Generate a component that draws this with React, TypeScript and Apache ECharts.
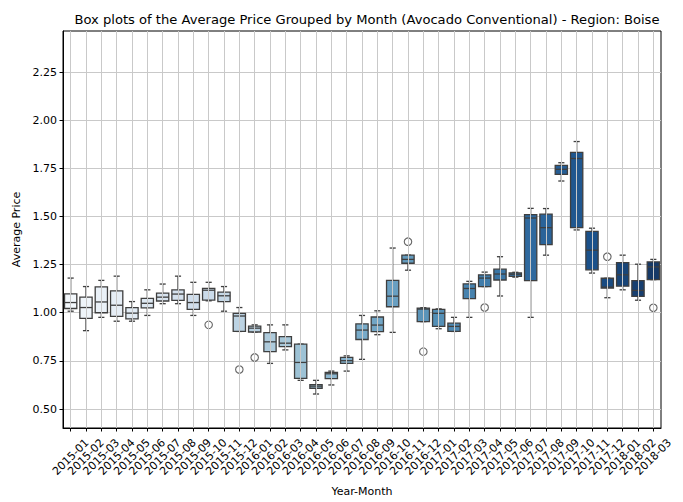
import React, { useEffect, useRef } from 'react';
import * as echarts from 'echarts';

const months = [
  '2015-01', '2015-02', '2015-03', '2015-04', '2015-05', '2015-06', '2015-07', '2015-08', '2015-09', '2015-10',
  '2015-11', '2015-12', '2016-01', '2016-02', '2016-03', '2016-04', '2016-05', '2016-06', '2016-07', '2016-08',
  '2016-09', '2016-10', '2016-11', '2016-12', '2017-01', '2017-02', '2017-03', '2017-04', '2017-05', '2017-06',
  '2017-07', '2017-08', '2017-09', '2017-10', '2017-11', '2017-12', '2018-01', '2018-02', '2018-03',
];

const lowWhisker = [
  1.008, 0.907, 0.976, 0.956, 0.956, 0.986, 1.047, 1.047, 0.986, 1.062,
  1.008, 0.903, 0.900, 0.737, 0.807, 0.649, 0.578, 0.625, 0.697, 0.758,
  0.886, 0.898, 1.221, 0.954, 0.917, 0.903, 0.976, 1.136, 1.087, 1.185,
  0.976, 1.299, 1.684, 1.430, 1.206, 1.078, 1.119, 1.065, 1.172,
];
const q1 = [
  1.022, 0.971, 1.000, 0.981, 0.968, 1.025, 1.061, 1.064, 1.017, 1.066,
  1.058, 0.903, 0.900, 0.798, 0.824, 0.659, 0.608, 0.658, 0.737, 0.861,
  0.902, 1.031, 1.257, 0.954, 0.929, 0.903, 1.073, 1.136, 1.170, 1.189,
  1.167, 1.354, 1.718, 1.442, 1.223, 1.128, 1.138, 1.085, 1.172,
];
const median = [
  1.053, 1.027, 1.056, 1.039, 0.998, 1.049, 1.081, 1.097, 1.053, 1.117,
  1.088, 0.983, 0.920, 0.849, 0.842, 0.742, 0.619, 0.683, 0.751, 0.910,
  0.936, 1.086, 1.277, 1.019, 0.997, 0.929, 1.126, 1.180, 1.201, 1.200,
  1.492, 1.442, 1.745, 1.801, 1.325, 1.133, 1.197, 1.116, 1.238,
];
const q3 = [
  1.098, 1.081, 1.134, 1.114, 1.027, 1.075, 1.102, 1.119, 1.095, 1.127,
  1.107, 0.997, 0.931, 0.897, 0.876, 0.837, 0.627, 0.690, 0.768, 0.942,
  0.978, 1.168, 1.299, 1.024, 1.017, 0.946, 1.150, 1.197, 1.226, 1.207,
  1.510, 1.512, 1.765, 1.833, 1.422, 1.179, 1.260, 1.167, 1.264,
];
const highWhisker = [
  1.180, 1.136, 1.168, 1.190, 1.058, 1.119, 1.149, 1.190, 1.158, 1.158,
  1.136, 1.027, 0.937, 0.937, 0.937, 0.837, 0.649, 0.697, 0.776, 0.986,
  1.010, 1.336, 1.299, 1.026, 1.020, 0.976, 1.163, 1.211, 1.291, 1.210,
  1.542, 1.541, 1.779, 1.889, 1.439, 1.179, 1.299, 1.252, 1.277,
];

const outlierMonths = ['2015-10', '2015-12', '2016-01', '2016-11', '2016-12', '2017-04', '2017-12', '2018-03'];
const outlierValues = [0.937, 0.705, 0.768, 1.369, 0.798, 1.027, 1.291, 1.026];

const yTicks = [0.5, 0.75, 1.0, 1.25, 1.5, 1.75, 2.0, 2.25];

const FONT = 'DejaVu Sans';

const BLUES = [
  [247, 251, 255], [222, 235, 247], [198, 219, 239], [158, 202, 225], [107, 174, 214],
  [66, 146, 198], [33, 113, 181], [8, 81, 156], [8, 48, 107],
];
function bluesAt(t: number): number[] {
  const p = t * 8;
  const i = Math.min(7, Math.floor(p));
  const f = p - i;
  return BLUES[i].map((c, k) => c + (BLUES[i + 1][k] - c) * f);
}
function desat(rgb: number[], factor: number): string {
  const mx = Math.max(...rgb);
  const mn = Math.min(...rgb);
  const l = (mx + mn) / 2;
  const out = rgb.map((c) => Math.round(l + (c - l) * factor));
  return `rgb(${out[0]},${out[1]},${out[2]})`;
}
const boxColors = months.map((_, i) => desat(bluesAt((i + 1) / (months.length + 1)), 0.75));

export default function App() {
  const ref = useRef<HTMLDivElement>(null);
  useEffect(() => {
    if (!ref.current) return;
    const chart = echarts.init(ref.current, undefined, { renderer: 'svg' });
    const stroke = '#3f3f3f';
    const lw = 1.3;
    const boxData = months.map((_, i) => [i, lowWhisker[i], q1[i], median[i], q3[i], highWhisker[i]]);
    const outData = outlierMonths.map((m, k) => [months.indexOf(m), outlierValues[k]]);
    chart.setOption({
      animation: false,
      title: {
        text: 'Box plots of the Average Price Grouped by Month (Avocado Conventional) - Region: Boise',
        left: 362,
        top: 8,
        textAlign: 'center',
        textStyle: { fontFamily: FONT, fontSize: 13.1, fontWeight: 'normal', color: '#000' },
      },
      grid: { left: 63, top: 31, width: 598, height: 404, show: true, borderColor: '#000', borderWidth: 1, backgroundColor: '#fff' },
      xAxis: {
        type: 'category',
        data: months,
        boundaryGap: true,
        name: 'Year-Month',
        nameLocation: 'middle',
        nameGap: 58,
        nameTextStyle: { fontFamily: FONT, fontSize: 11, color: '#000' },
        axisLine: { show: true, lineStyle: { color: '#000', width: 1 } },
        axisTick: { show: true, alignWithLabel: true, length: 3.5, lineStyle: { color: '#000' } },
        axisLabel: {
          interval: 0,
          rotate: 45,
          align: 'center',
          verticalAlign: 'middle',
          margin: 29,
          fontFamily: FONT,
          fontSize: 11,
          color: '#000',
        },
        splitLine: { show: false },
      },
      yAxis: {
        type: 'value',
        min: 0.4015,
        max: 2.463,
        name: 'Average Price',
        nameLocation: 'middle',
        nameGap: 40,
        nameTextStyle: { fontFamily: FONT, fontSize: 11, color: '#000' },
        axisLine: { show: true, lineStyle: { color: '#000', width: 1 } },
        axisTick: { show: true, length: 3.5, customValues: yTicks, lineStyle: { color: '#000' } },
        axisLabel: {
          customValues: yTicks,
          formatter: (v: number) => v.toFixed(2),
          fontFamily: FONT,
          fontSize: 11,
          color: '#000',
          margin: 6,
        },
        splitLine: { show: true, lineStyle: { color: '#c9c9c9', width: 1 } },
      },
      series: [
        {
          type: 'scatter',
          data: [],
          z: 1,
          silent: true,
          markLine: {
            silent: true,
            symbol: ['none', 'none'],
            label: { show: false },
            lineStyle: { color: '#c9c9c9', width: 1, type: 'solid' },
            data: months.map((m) => ({ xAxis: m })),
          },
        },
        {
          type: 'custom',
          z: 3,
          data: boxData,
          encode: { x: 0, y: [1, 2, 3, 4, 5] },
          renderItem: (params: any, api: any) => {
            const i = api.value(0);
            const pLow = api.coord([i, api.value(1)]);
            const pQ1 = api.coord([i, api.value(2)]);
            const pMed = api.coord([i, api.value(3)]);
            const pQ3 = api.coord([i, api.value(4)]);
            const pHigh = api.coord([i, api.value(5)]);
            const band = api.size([1, 0])[0];
            const bw = band * 0.8;
            const cw = bw * 0.5;
            const x = pLow[0];
            const ls = { stroke, lineWidth: lw, fill: 'none' };
            return {
              type: 'group',
              children: [
                { type: 'line', shape: { x1: x, y1: pHigh[1], x2: x, y2: pQ3[1] }, style: ls },
                { type: 'line', shape: { x1: x, y1: pQ1[1], x2: x, y2: pLow[1] }, style: ls },
                { type: 'line', shape: { x1: x - cw / 2, y1: pHigh[1], x2: x + cw / 2, y2: pHigh[1] }, style: ls },
                { type: 'line', shape: { x1: x - cw / 2, y1: pLow[1], x2: x + cw / 2, y2: pLow[1] }, style: ls },
                {
                  type: 'rect',
                  shape: { x: x - bw / 2, y: pQ3[1], width: bw, height: Math.max(pQ1[1] - pQ3[1], 0.5) },
                  style: { fill: boxColors[params.dataIndex], stroke, lineWidth: lw },
                },
                { type: 'line', shape: { x1: x - bw / 2, y1: pMed[1], x2: x + bw / 2, y2: pMed[1] }, style: ls },
              ],
            };
          },
        },
        {
          type: 'scatter',
          z: 4,
          data: outData,
          symbol: 'circle',
          symbolSize: 7.5,
          itemStyle: { color: 'rgba(0,0,0,0)', borderColor: stroke, borderWidth: 1.1 },
        },
      ],
    });
    return () => chart.dispose();
  }, []);
  return <div ref={ref} style={{ position: 'absolute', left: 0, top: 0, width: 683, height: 502 }} />;
}
